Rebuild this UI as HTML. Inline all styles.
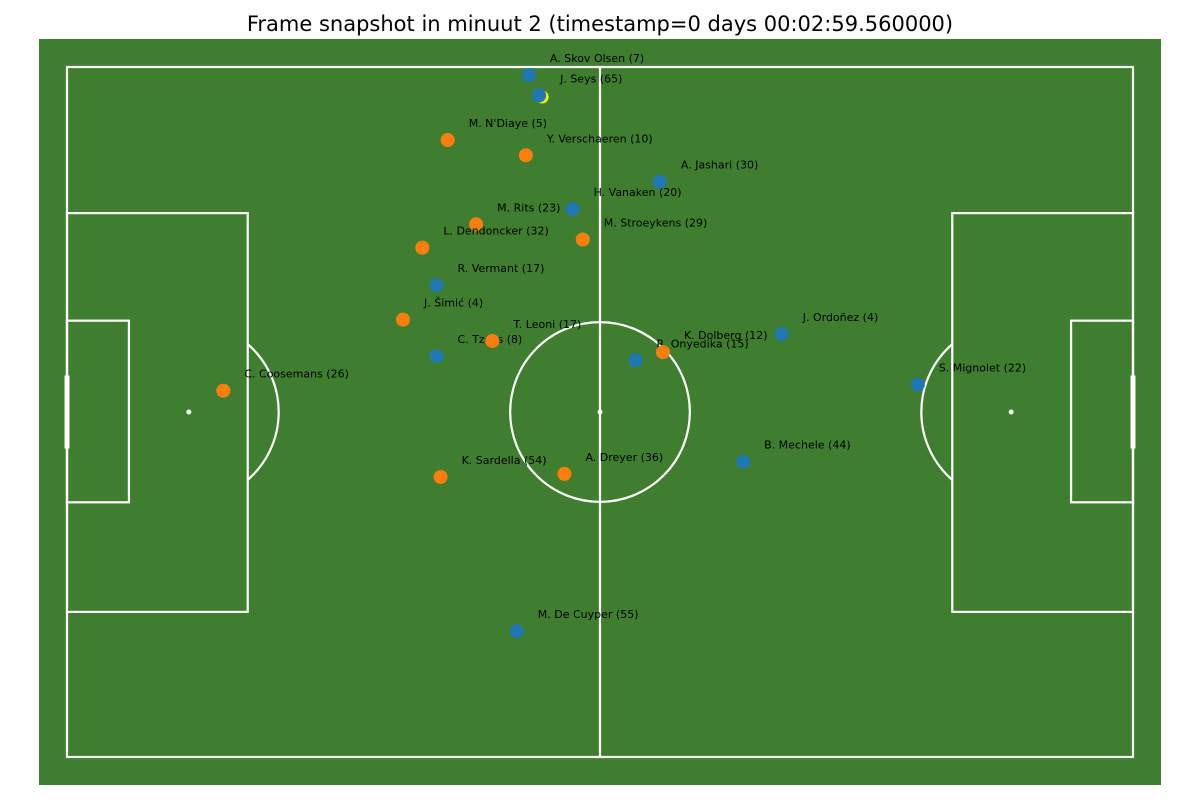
<!DOCTYPE html>
<html><head><meta charset="utf-8"><style>
html,body{margin:0;padding:0;background:#fff;width:1200px;height:800px;overflow:hidden}
svg{display:block;font-family:"DejaVu Sans","Liberation Sans",sans-serif}
</style></head><body>
<svg id="chart" width="1200" height="800" xmlns="http://www.w3.org/2000/svg">
<text x="600" y="31" text-anchor="middle" font-size="21" fill="#000">Frame snapshot in minuut 2 (timestamp=0 days 00:02:59.560000)</text>
<rect x="39" y="39" width="1122" height="746" fill="#3e7e2e"/>
<g id="lines" fill="none" stroke="#fff" stroke-width="2.2"></g>
<g id="players"></g>
</svg>
<script>
// pitch 105 x 68 metres
const names = ["A. Skov Olsen (7)","J. Seys (65)","A. Jashari (30)","H. Vanaken (20)","R. Vermant (17)","C. Tzolis (8)","R. Onyedika (15)","J. Ordoñez (4)","S. Mignolet (22)","B. Mechele (44)","M. De Cuyper (55)",
"M. N'Diaye (5)","Y. Verschaeren (10)","M. Rits (23)","M. Stroeykens (29)","L. Dendoncker (32)","J. Šimić (4)","T. Leoni (17)","K. Dolberg (12)","C. Coosemans (26)","K. Sardella (54)","A. Dreyer (36)"];
const teams = ["home","home","home","home","home","home","home","home","home","home","home",
"away","away","away","away","away","away","away","away","away","away","away"];
const posX = [45.5,46.5,58.4,49.8,36.4,36.4,56.0,70.4,83.8,66.6,44.3, 37.5,45.2,40.3,50.8,35.0,33.1,41.9,58.7,15.4,36.8,49.0];
const posY = [0.8,2.8,11.3,14.0,21.5,28.5,28.9,26.3,31.3,38.9,55.6, 7.2,8.7,15.5,17.0,17.8,24.9,27.0,28.1,31.9,40.4,40.1];
const ballX = [46.8];
const ballY = [2.96];

const X0=67,Y0=67,SX=1066/105,SY=690/68;
const sx=m=>X0+m*SX, sy=m=>Y0+m*SY;
const NS="http://www.w3.org/2000/svg";
function mk(tag,attrs,parent){const e=document.createElementNS(NS,tag);for(const k in attrs)e.setAttribute(k,attrs[k]);parent.appendChild(e);return e;}
const L=document.getElementById('lines');
const P=document.getElementById('players');
const R=8.85;
let e;
e=mk('rect',{x:sx(0),y:sy(0),width:105*SX,height:68*SY},L);


e=mk('line',{x1:sx(52.5),y1:sy(0),x2:sx(52.5),y2:sy(68)},L);


e=mk('circle',{cx:sx(52.5),cy:sy(34),r:R*SX},L);


e=mk('circle',{cx:sx(52.5),cy:sy(34),r:2.5,fill:'#fff',stroke:'none'},L);


[0,1].forEach(side=>{
  const f=m=>side?sx(105-m):sx(m);
  const pb=mk('rect',{x:Math.min(f(0),f(17.8)),y:sy(14.4),width:17.8*SX,height:39.3*SY},L);
  
  
  const ga=mk('rect',{x:Math.min(f(0),f(6.1)),y:sy(25.0),width:6.1*SX,height:17.9*SY},L);
  
  
  const sp=mk('circle',{cx:f(12),cy:sy(34),r:2.5,fill:'#fff',stroke:'none'},L);
  
  
  const r=R*SX, cx=f(12), bx=f(17.8), dx=Math.abs(bx-cx), dy=Math.sqrt(r*r-dx*dx);
  const arc=mk('path',{d:`M${bx},${sy(34)-dy} A${r},${r} 0 0 ${side?0:1} ${bx},${sy(34)+dy}`},L);
  
  
  const g=mk('rect',{x:f(0)-2.5,y:sy(30.4),width:5,height:7.2*SY,fill:'#fff',stroke:'none'},L);
  
  
});
names.forEach((n,i)=>{
  const cx=sx(posX[i]), cy=sy(posY[i]);
  const c=mk('circle',{cx:cx,cy:cy,r:7,fill:teams[i]==='home'?'#1f77b4':'#ff7f0e'},P);
  
  
  const t=mk('text',{x:cx+21,y:cy-13,'font-size':11,fill:'#000'},P);
  t.textContent=n;
  
  
  if(i===0){
    const b=mk('circle',{cx:sx(ballX[0]),cy:sy(ballY[0]),r:6.5,fill:'#f2f20a'},P);
    
    
  }
});
const seys=mk('circle',{cx:sx(posX[1]),cy:sy(posY[1]),r:7,fill:'#1f77b4'},P);


</script>
</body></html>
